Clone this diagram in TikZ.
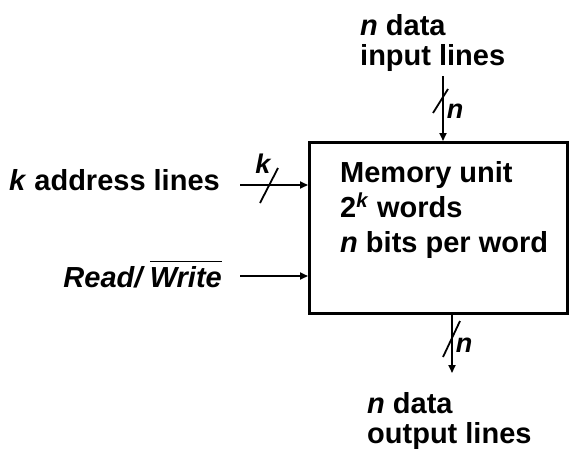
\documentclass[tikz,border=0pt]{standalone}
\usepackage{fontspec}
\setmainfont{Liberation Sans}
\usetikzlibrary{arrows.meta}
\begin{document}
\begin{tikzpicture}[x=1pt,y=-1pt,
  txt/.style={inner sep=0pt,font=\fontsize{29}{35}\selectfont\bfseries},
  sm/.style={inner sep=0pt,font=\fontsize{27}{30}\selectfont\bfseries\itshape},
  conn/.style={line width=1.8pt,-{Triangle[length=8pt,width=7pt]}},
  bus/.style={line width=1.8pt}]
\useasboundingbox (0,0) rectangle (569,450);
\node[draw,line width=2.6pt,minimum width=258pt,minimum height=171pt,anchor=north west,inner sep=0pt] (mem) at (308,141) {};
% box text
\node[txt,anchor=base west] (l1) at (340,182) {Memory unit};
\node[txt,anchor=base west] (l2) at (340,217) {2\textsuperscript{\textit{k}} words};
\node[txt,anchor=base west] (l3) at (340,252) {\textit{n} bits per word};
% top text
\node[txt,anchor=base west] (t1) at (360,35) {\textit{n} data};
\node[txt,anchor=base west] (t2) at (360,65) {input lines};
% bottom text
\node[txt,anchor=base west] (b1) at (367,413) {\textit{n} data};
\node[txt,anchor=base west] (b2) at (367,443) {output lines};
% left texts
\node[txt,anchor=base east] (addr) at (220,190) {\textit{k} address lines};
\node[txt,anchor=base east] (rw) at (222,287) {\textit{Read/}\,$\overline{\vrule width0pt height 24pt\hbox{\textit{Write}}}$};
% coordinates
\coordinate (ain) at (240,185);
\coordinate (rin) at (240,276);
\coordinate (iin) at (443,76);
\coordinate (oout) at (452,373);
\draw[conn] (ain) -- (ain -| mem.west);
\draw[conn] (rin) -- (rin -| mem.west);
\draw[conn] (iin) -- (iin |- mem.north);
\draw[conn] (oout |- mem.south) -- (oout);
% bus slashes
\coordinate (s1a) at (260,203); \coordinate (s1b) at (278,168);
\draw[bus] (s1a) -- (s1b);
\node[sm,anchor=base] (kl) at (263,173) {k};
\coordinate (s2a) at (433,113); \coordinate (s2b) at (448,89);
\draw[bus] (s2a) -- (s2b);
\node[sm,anchor=base] (nl1) at (455,118) {n};
\coordinate (s3a) at (443,357); \coordinate (s3b) at (460,321);
\draw[bus] (s3a) -- (s3b);
\node[sm,anchor=base] (nl2) at (464,352) {n};
\end{tikzpicture}
\end{document}
